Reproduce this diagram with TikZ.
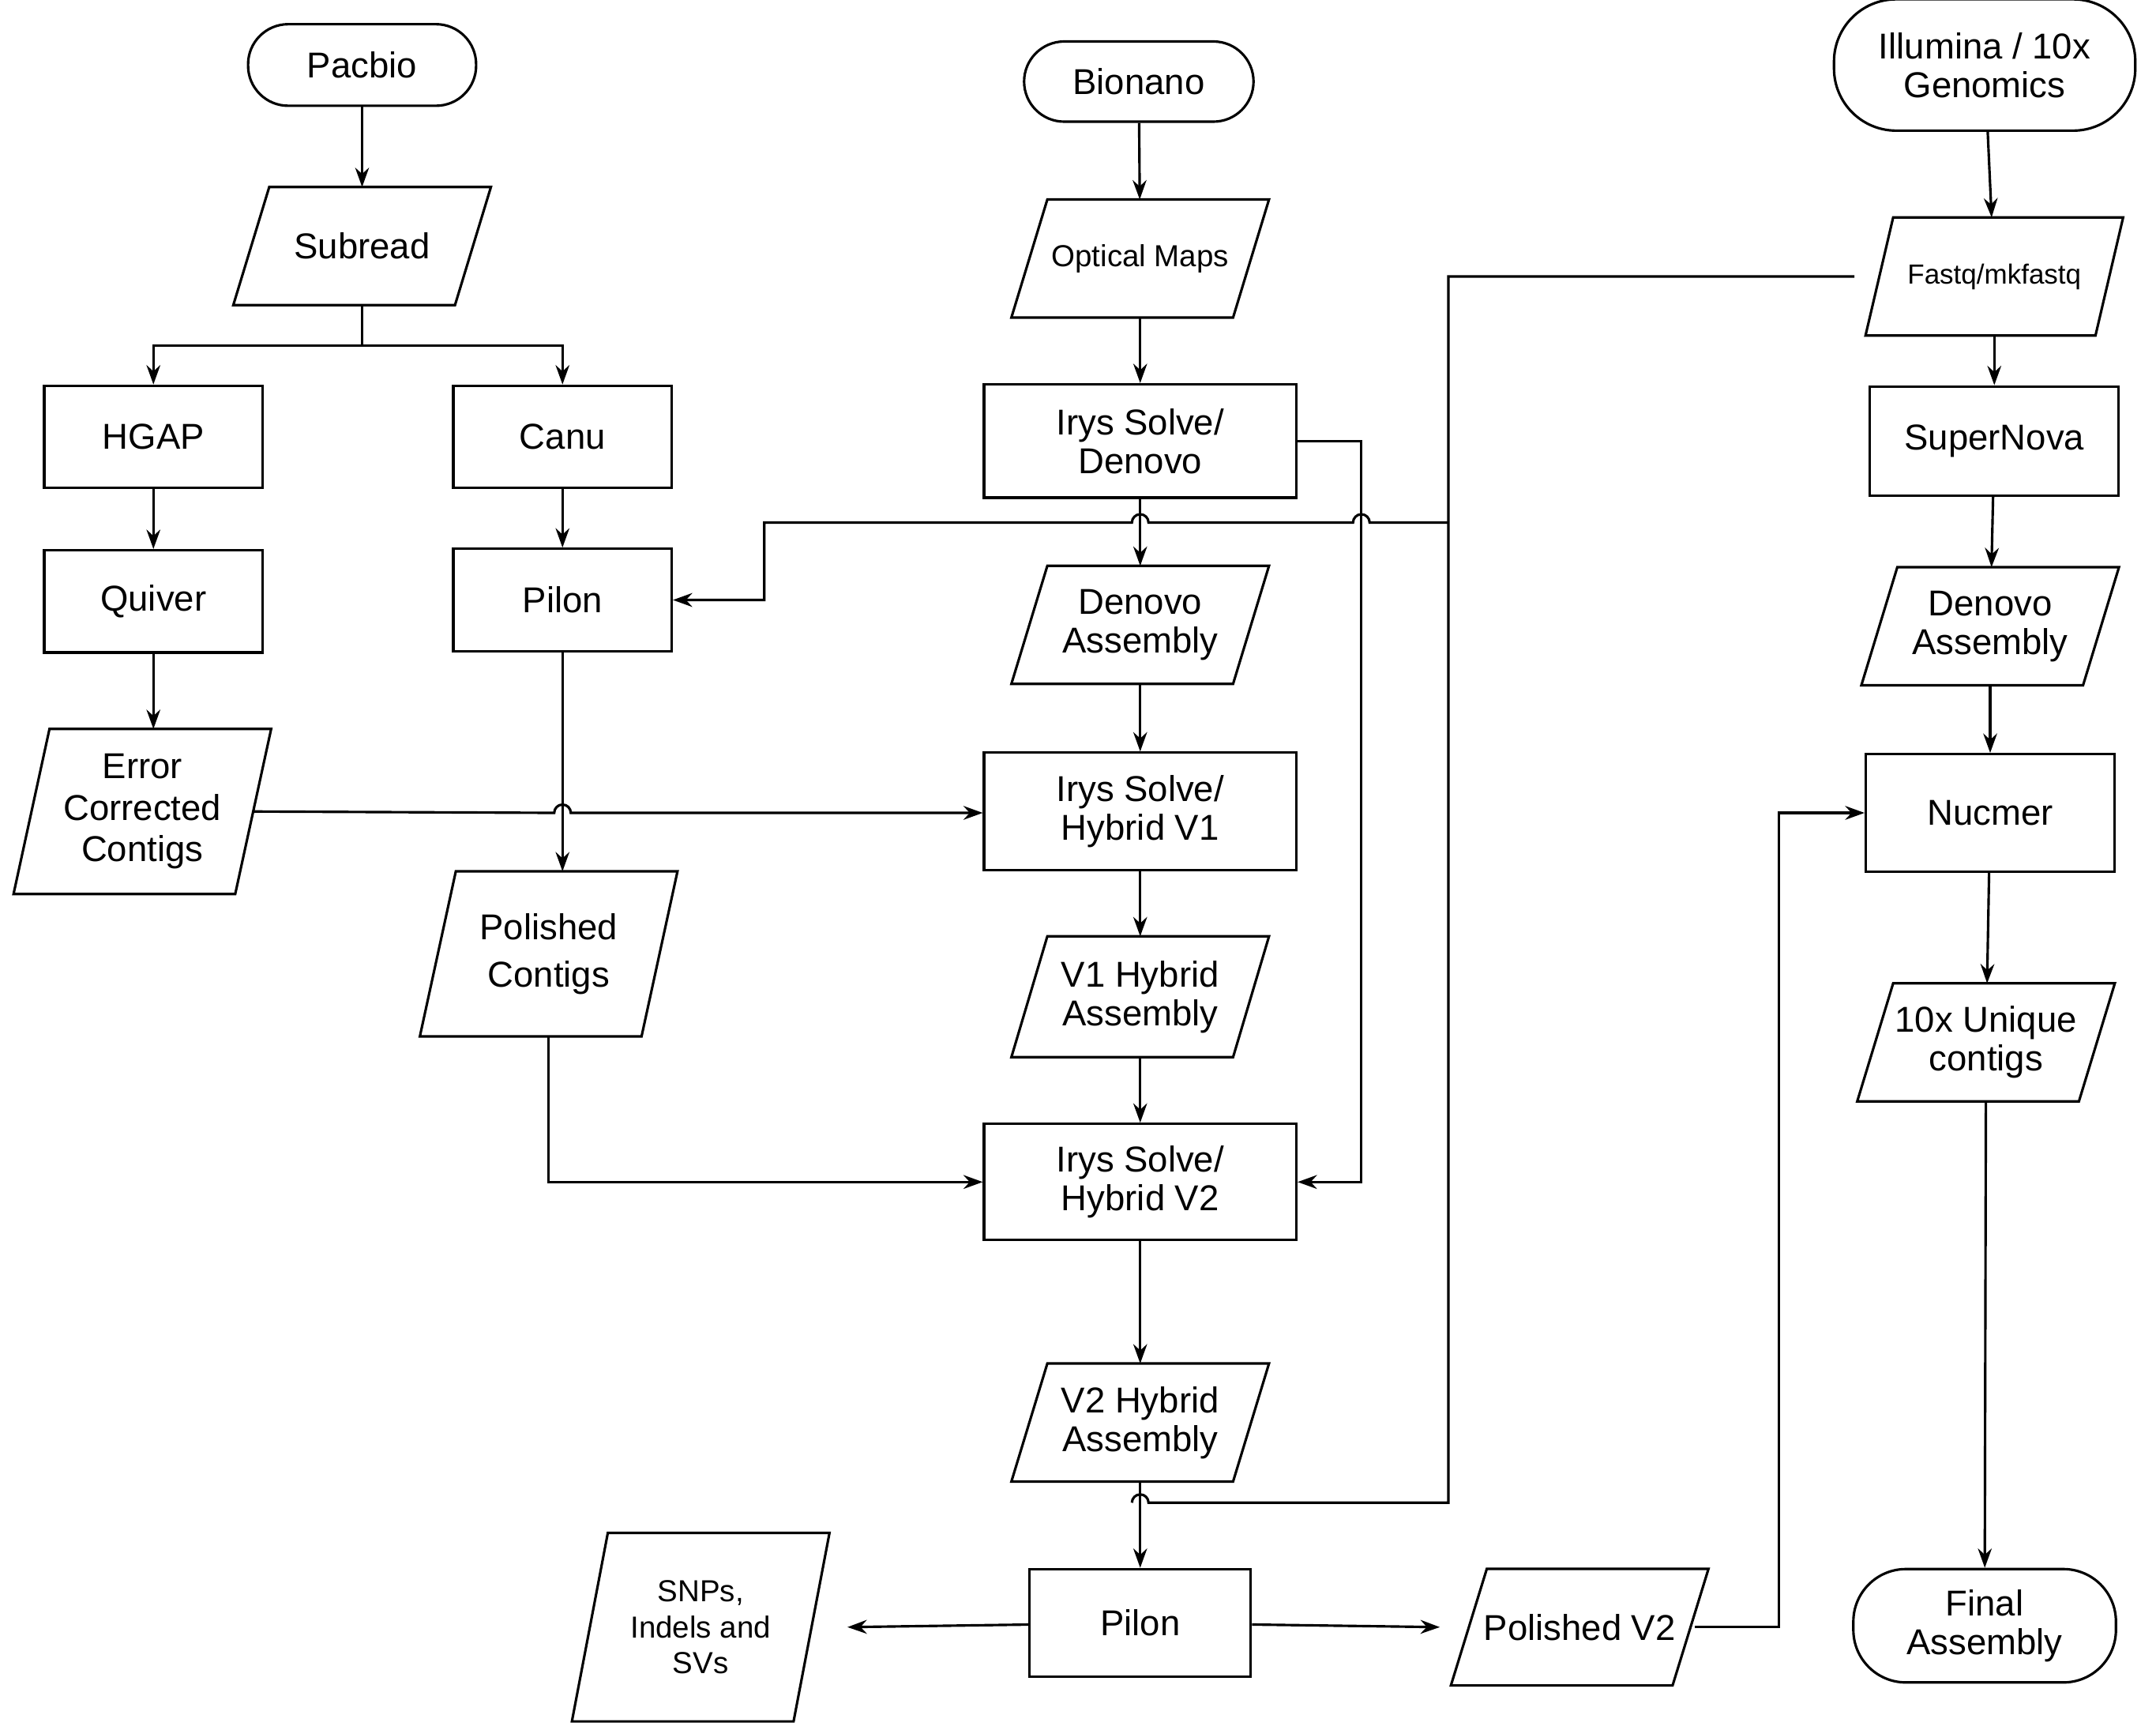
\documentclass[tikz,border=0pt]{standalone}
\usepackage{fontspec}
\setmainfont{Liberation Sans}
\usetikzlibrary{calc,arrows.meta}
\begin{document}
\begin{tikzpicture}[x=1pt,y=-1pt,
  ln/.style={line width=1.8pt},
  ar/.style={ln,-{Stealth[length=14pt,width=10pt]}},
  box/.style={draw,ln,minimum width=158pt,minimum height=74pt,align=center,font=\fontsize{26}{34}\selectfont},
  wbox/.style={box,minimum width=226pt,minimum height=82pt},
  term/.style={draw,ln,rounded corners=29pt,align=center,font=\fontsize{26}{34}\selectfont},
  ptext/.style={inner sep=0pt,minimum width=186pt,minimum height=85pt,align=center,font=\fontsize{26}{34}\selectfont}]
\useasboundingbox (0,0) rectangle (1560,1251);
\fill[white] (0,0) rectangle (1560,1251);
\newcommand\pnode[5][]{\node[ptext,#1] (#2) at (#3) {#4};
  \draw[ln] ($(#2.north west)+(#5,0)$) -- (#2.north east) -- ($(#2.south east)+(-#5,0)$) -- (#2.south west) -- cycle;}
% Pacbio column
\node[term,minimum width=165pt,minimum height=59pt] (pac) at (262,47) {Pacbio};
\pnode{sub}{262,178}{Subread}{26}
\node[box] (hgap) at (111,316) {HGAP};
\node[box] (canu) at (407,316) {Canu};
\node[box] (quiv) at (111,435) {Quiver};
\node[box] (pil1) at (407,434) {Pilon};
\pnode[minimum height=119pt]{ecc}{103,587}{Error\\[-4pt]Corrected\\[-4pt]Contigs}{26}
\pnode[minimum height=119pt]{pc}{397,690}{Polished\\Contigs}{26}
% Bionano column
\node[term,minimum width=166pt,minimum height=58pt] (bio) at (824,59) {Bionano};
\pnode[font=\fontsize{22}{28}\selectfont]{om}{825,187}{Optical Maps}{26}
\node[wbox] (ird) at (825,319) {Irys Solve/\\[-6pt]Denovo};
\pnode{da}{825,452}{Denovo\\[-6pt]Assembly}{26}
\node[wbox,minimum height=85pt] (ih1) at (825,587) {Irys Solve/\\[-6pt]Hybrid V1};
\pnode[minimum height=87pt]{v1}{825,721}{V1 Hybrid\\[-6pt]Assembly}{26}
\node[wbox,minimum height=84pt] (ih2) at (825,855) {Irys Solve/\\[-6pt]Hybrid V2};
\pnode{v2}{825,1029}{V2 Hybrid\\[-6pt]Assembly}{26}
\node[box,minimum width=160pt,minimum height=78pt] (pil2) at (825,1174) {Pilon};
\pnode[minimum height=136pt,font=\fontsize{22}{26}\selectfont]{snp}{507,1177}{SNPs,\\Indels and\\SVs}{26}
\pnode[minimum height=84pt]{pv2}{1143,1177}{Polished V2}{26}
% Illumina column
\node[term,minimum width=218pt,minimum height=95pt,rounded corners=45pt] (ill) at (1436,47) {Illumina / 10x\\[-6pt]Genomics};
\pnode[font=\fontsize{20}{24}\selectfont]{fq}{1443,200}{Fastq/mkfastq}{20}
\node[box,minimum width=180pt,minimum height=79pt] (sn) at (1443,319) {SuperNova};
\pnode{dar}{1440,453}{Denovo\\[-6pt]Assembly}{26}
\node[box,minimum width=180pt,minimum height=85pt] (nuc) at (1440,588) {Nucmer};
\pnode{ux}{1437,754}{10x Unique\\[-6pt]contigs}{26}
\node[term,minimum width=190pt,minimum height=82pt,rounded corners=38pt] (fin) at (1436,1176) {Final\\[-6pt]Assembly};
% connectors
\draw[ar] (pac) -- (sub);
\coordinate (sp) at (262,250);
\draw[ln] (sub.south) -- (sp);
\draw[ar] (sp) -| (hgap.north);
\draw[ar] (sp) -| (canu.north);
\draw[ar] (hgap) -- (quiv);
\draw[ar] (quiv.south) -- (quiv.south |- ecc.north);
\draw[ar] (canu) -- (pil1);
\draw[ar] (pil1.south) -- (pil1.south |- pc.north);
\draw[ar] ([xshift=-13pt]ecc.east) -- (401,588) arc(180:360:6) -- (ih1.west |- 0,588);
\draw[ar] (pc.south) -- (pc.south |- ih2.west) -- (ih2.west);
\draw[ar] (bio) -- (om);
\draw[ar] (om) -- (ird);
\draw[ar] (ird) -- (da);
\draw[ar] (da) -- (ih1);
\draw[ar] (ih1) -- (v1);
\draw[ar] (v1) -- (ih2);
\draw[ar] (ih2) -- (v2);
\draw[ar] (v2) -- (pil2);
\draw[ar] (ird.east) -- (985,319) -- (985,855) -- (ih2.east);
\coordinate (j1) at (1048,200);
\coordinate (j2) at (1048,378);
\coordinate (j3) at (553,378);
\draw[ln] ([xshift=-8pt]fq.west) -- (j1) -- (1048,1087) -- (831,1087) arc(0:-180:6);
\draw[ar] (j2) -- (991,378) arc(0:-180:6) -- (831,378) arc(0:-180:6) -- (j3) -- (553,434) -- (pil1.east);
\draw[ar] (pil2) -- ([xshift=13pt]snp.east);
\draw[ar] (pil2) -- ([xshift=-8pt]pv2.west);
\draw[ar] ([xshift=-10pt]pv2.east) -- (1287,1177) -- (1287,588) -- (nuc.west);
\draw[ar] (ill) -- (fq);
\draw[ar] (fq) -- (sn);
\draw[ar] (sn) -- (dar);
\draw[ar] (dar) -- (nuc);
\draw[ar] (nuc) -- (ux);
\draw[ar] (ux) -- (fin);
\end{tikzpicture}
\end{document}
